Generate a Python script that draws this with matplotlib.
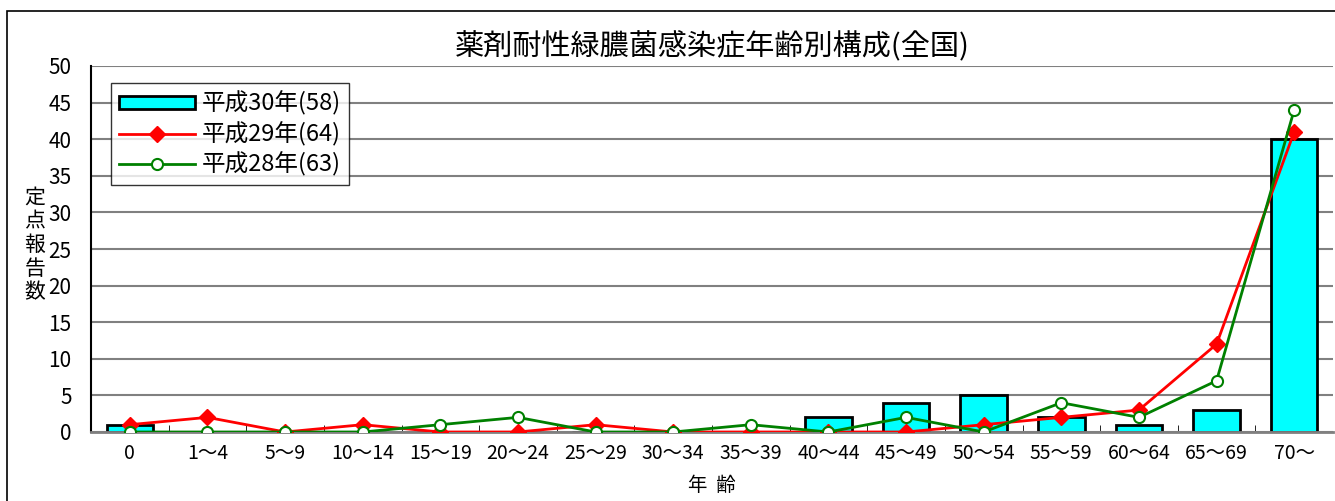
import matplotlib.pyplot as plt
import numpy as np
from matplotlib.patches import Rectangle

plt.rcParams['font.family'] = ['Noto Sans CJK JP', 'DejaVu Sans']

ages = ["0", "1～4", "5～9", "10～14", "15～19", "20～24", "25～29", "30～34",
        "35～39", "40～44", "45～49", "50～54", "55～59", "60～64", "65～69", "70～"]
h30 = [1, 0, 0, 0, 0, 0, 0, 0, 0, 2, 4, 5, 2, 1, 3, 40]
h29 = [1, 2, 0, 1, 0, 0, 1, 0, 0, 0, 0, 1, 2, 3, 12, 41]
h28 = [0, 0, 0, 0, 1, 2, 0, 0, 1, 0, 2, 0, 4, 2, 7, 44]

fig = plt.figure(figsize=(13.35, 5.01), dpi=100)
ax = fig.add_axes([91/1335, 1-432/501, (1333-91)/1335, (432-66)/501])

# outer frame
fig.patches.append(Rectangle((7/1335, -0.1), 1.2, 1-11/501+0.1, transform=fig.transFigure,
                             fill=False, edgecolor="black", linewidth=1.2))

x = np.arange(len(ages))
b = ax.bar(x, h30, width=0.6, color="#00FFFF", edgecolor="black", linewidth=2,
           label="平成30年(58)", zorder=2)
l29, = ax.plot(x, h29, color="red", linewidth=2, marker="D", markersize=8,
               markerfacecolor="red", markeredgecolor="red", label="平成29年(64)", zorder=3)
l28, = ax.plot(x, h28, color="green", linewidth=2, marker="o", markersize=8,
               markerfacecolor="white", markeredgecolor="green", markeredgewidth=1.5,
               label="平成28年(63)", zorder=4)

ax.set_xlim(-0.5, len(ages) - 0.5)
ax.set_ylim(0, 50)
ax.set_yticks(range(0, 51, 5))
ax.yaxis.grid(True, color="#808080", linewidth=1.5)
ax.set_axisbelow(True)
ax.tick_params(axis="y", labelsize=15, length=0, pad=14)

ax.set_xticks(x)
ax.set_xticklabels(ages, fontsize=14)
ax.tick_params(axis="x", length=0, pad=8)
ax.set_xticks(np.arange(0.5, len(ages) - 1, 1), minor=True)
ax.tick_params(axis="x", which="minor", direction="in", length=5, color="black")

for s in ["top", "right"]:
    ax.spines[s].set_visible(False)
ax.spines["left"].set_linewidth(1.5)
ax.spines["bottom"].set_color("#808080")
ax.spines["bottom"].set_linewidth(2)

ax.set_title("薬剤耐性緑膿菌感染症年齢別構成(全国)", fontsize=21, pad=8)
ax.set_xlabel("年  齢", fontsize=14, labelpad=8)
fig.text(35/1335, 1-245/501, "定\n点\n報\n告\n数", fontsize=15, ha="center", va="center",
         linespacing=1.1)

leg = ax.legend([b, l29, l28], ["平成30年(58)", "平成29年(64)", "平成28年(63)"],
                loc="upper left", bbox_to_anchor=((111-91)/1242, (432-83)/366),
                fontsize=17, frameon=True, fancybox=False, edgecolor="black",
                handlelength=3.2, handleheight=0.5, borderpad=0.35, labelspacing=0.25,
                handletextpad=0.3, borderaxespad=0)
leg.get_frame().set_linewidth(1)

fig.savefig("out.png", dpi=100)
